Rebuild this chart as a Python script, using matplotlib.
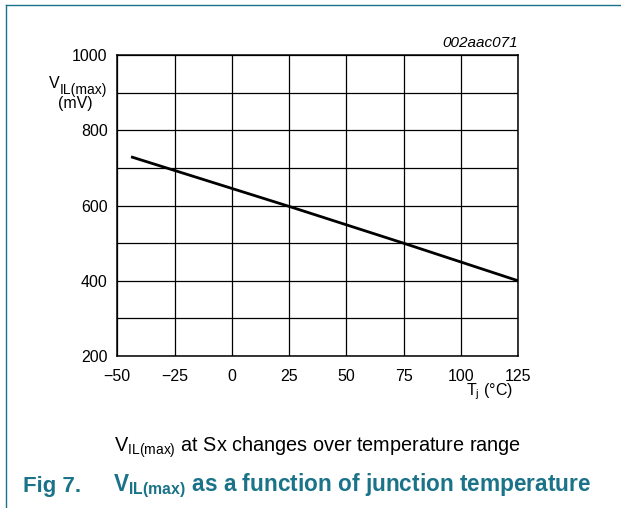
import matplotlib
matplotlib.use("Agg")
import matplotlib.pyplot as plt

plt.rcParams['font.family'] = ['Liberation Sans', 'DejaVu Sans']
plt.rcParams['mathtext.fontset'] = 'custom'
plt.rcParams['mathtext.rm'] = 'Liberation Sans'
plt.rcParams['mathtext.it'] = 'Liberation Sans:italic'
plt.rcParams['mathtext.bf'] = 'Liberation Sans:bold'

# data
temp_c = [-44, 25, 75, 125]
vil_max_mv = [730, 598, 500, 400]
x_ticks = [-50, -25, 0, 25, 50, 75, 100, 125]
x_labels = ['\u221250', '\u221225', '0', '25', '50', '75', '100', '125']
y_ticks = [200, 400, 600, 800, 1000]
y_grid = [200, 300, 400, 500, 600, 700, 800, 900, 1000]

teal = '#1a7388'

fig = plt.figure(figsize=(6.21, 5.08), dpi=100)
ax = fig.add_axes([0.1889, 0.2992, 0.6457, 0.5919])

ax.plot(temp_c, vil_max_mv, color='black', lw=2.0, solid_capstyle='butt')
ax.set_xlim(-50, 125)
ax.set_ylim(200, 1000)
ax.set_xticks(x_ticks)
ax.set_xticklabels(x_labels)
ax.set_yticks(y_ticks)
ax.set_yticks(y_grid, minor=True)
ax.tick_params(which='both', length=0, labelsize=11.5)
ax.tick_params(axis='x', pad=9)
ax.tick_params(axis='y', pad=7)
ax.grid(True, which='both', color='black', lw=0.9)
ax.set_axisbelow(True)
for s in ax.spines.values():
    s.set_linewidth(1.1)

# axis labels, V with a larger subscript than mathtext gives
fig.text(0.079, 0.836, 'V', fontsize=11.5, ha='left', va='center')
fig.text(0.097, 0.823, 'IL(max)', fontsize=10, ha='left', va='center')
fig.text(0.1216, 0.797, '(mV)', fontsize=11.5, ha='center', va='center')
fig.text(0.826, 0.228, r'T$_{\mathrm{j}}$ (°C)', fontsize=11.5, ha='right', va='center')
fig.text(0.834, 0.915, '002aac071', fontsize=11, style='italic', ha='right', va='center')

fig.text(0.5105, 0.120, r'V$_{\mathrm{IL(max)}}$ at Sx changes over temperature range',
         fontsize=14.3, ha='center', va='center')
fig.text(0.0365, 0.043, 'Fig 7.', fontsize=16, fontweight='bold', color=teal, va='center')
fig.text(0.182, 0.043, r'V$_{\mathbf{IL(max)}}$ as a function of junction temperature',
         fontsize=16.3, fontweight='bold', color=teal, va='center')

# frame lines at top and left of the page
fig.add_artist(plt.Line2D([0.0097, 1.0], [0.990, 0.990], color=teal, lw=1.0))
fig.add_artist(plt.Line2D([0.0097, 0.0097], [0.0, 0.990], color=teal, lw=1.0))

fig.savefig('out.png', dpi=100)
